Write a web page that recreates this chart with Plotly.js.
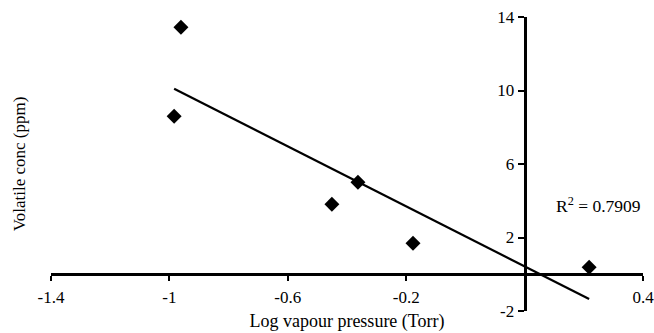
<!DOCTYPE html>
<html>
<head>
<meta charset="utf-8">
<script src="https://cdn.plot.ly/plotly-3.0.1.min.js"></script>
<style>html,body{margin:0;padding:0;background:#fff;}#chart{width:654px;height:333px;}</style>
</head>
<body>
<div id="chart"></div>
<script>
// Data
var logVapourPressure = [-0.984, -0.961, -0.451, -0.363, -0.177, 0.418];
var volatileConc = [8.60, 13.44, 3.81, 5.01, 1.69, 0.38];

// Axis ticks
var xTickVals = [-1.4, -1.0, -0.6, -0.2, 0.6];
var xTickText = ["-1.4", "-1", "-0.6", "-0.2", "0.4"];
var yTickVals = [-2, 2, 6, 10, 14];
var yTickText = ["-2", "2", "6", "10", "14"];
var rSquaredLabel = "R<sup>2</sup> = 0.7909";

// Least-squares trendline from the data
var n = logVapourPressure.length;
var mx = logVapourPressure.reduce(function(a,b){return a+b;},0)/n;
var my = volatileConc.reduce(function(a,b){return a+b;},0)/n;
var sxy = 0, sxx = 0;
for (var i = 0; i < n; i++) {
  sxy += (logVapourPressure[i]-mx)*(volatileConc[i]-my);
  sxx += (logVapourPressure[i]-mx)*(logVapourPressure[i]-mx);
}
var slope = sxy/sxx, intercept = my - slope*mx;
var xMin = Math.min.apply(null, logVapourPressure);
var xMax = Math.max.apply(null, logVapourPressure);
var trendX = [xMin, xMax];
var trendY = trendX.map(function(v){return intercept + slope*v;});

var font = "Liberation Serif, Times New Roman, serif";

var traces = [
  {x: trendX, y: trendY, type: "scatter", mode: "lines",
   line: {color: "#000", width: 2.2}, hoverinfo: "skip", showlegend: false},
  {x: logVapourPressure, y: volatileConc, type: "scatter", mode: "markers",
   marker: {symbol: "diamond", size: 11.5, color: "#000"}, showlegend: false},
  {x: [null], y: [null], yaxis: "y2", type: "scatter", mode: "markers",
   showlegend: false, hoverinfo: "skip"}
];

var layout = {
  width: 654, height: 333,
  margin: {l: 51, r: 11, t: 17, b: 22, pad: 0},
  paper_bgcolor: "#fff", plot_bgcolor: "#fff",
  font: {family: font, color: "#000", size: 17},
  showlegend: false,
  xaxis: {
    range: [-1.4, 0.6], anchor: "free", position: 0.125,
    showgrid: false, zeroline: false,
    showline: true, linecolor: "#000", linewidth: 3,
    ticks: "outside", ticklen: 5, tickwidth: 2, tickcolor: "#000",
    tickvals: xTickVals, ticktext: xTickText,
    tickfont: {family: font, size: 17, color: "#000"},
    ticklabelstandoff: 1, ticklabeloverflow: "allow",
    title: {text: "Log vapour pressure (Torr)", font: {family: font, size: 18, color: "#000"}, standoff: 8}
  },
  yaxis: {
    range: [-2, 14], showgrid: false, zeroline: false,
    showline: false, showticklabels: false, ticks: "",
    title: {text: "Volatile conc (ppm)", font: {family: font, size: 17, color: "#000"}, standoff: 20}
  },
  yaxis2: {
    range: [-2, 14], overlaying: "y", anchor: "free", position: 0.8, side: "left",
    showgrid: false, zeroline: false,
    showline: true, linecolor: "#000", linewidth: 3,
    ticks: "outside", ticklen: 6, tickwidth: 2, tickcolor: "#000",
    tickvals: yTickVals, ticktext: yTickText,
    tickfont: {family: font, size: 17, color: "#000"}, ticklabeloverflow: "allow"
  },
  annotations: [
    {x: 0.448, y: 3.76, xref: "x", yref: "y", text: rSquaredLabel, showarrow: false,
     font: {family: font, size: 17.5, color: "#000"}}
  ]
};

Plotly.newPlot("chart", traces, layout, {displayModeBar: false, staticPlot: true});
</script>
</body>
</html>
